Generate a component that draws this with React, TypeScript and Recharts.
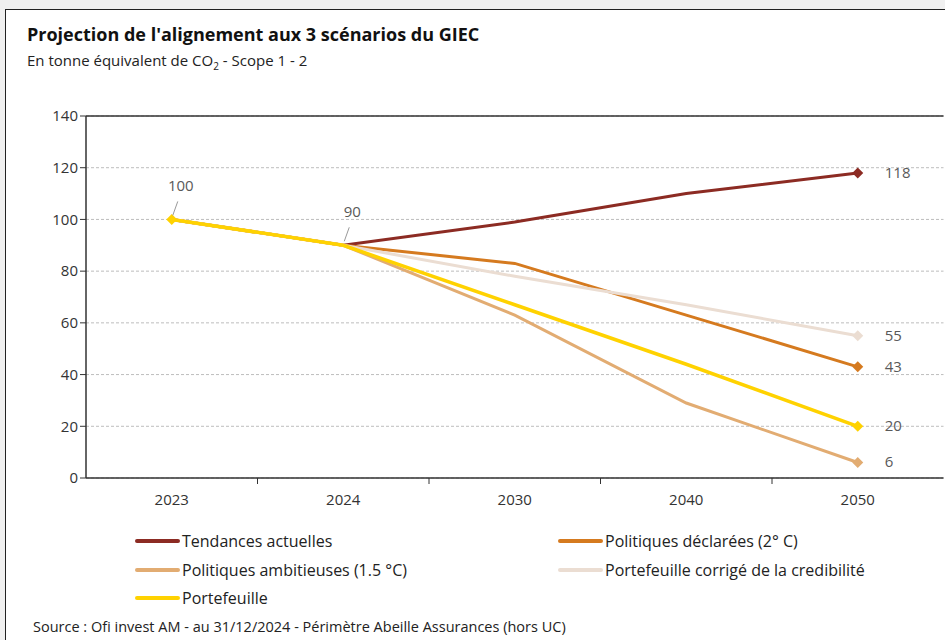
import React from "react";
import { LineChart, Line, XAxis, YAxis, CartesianGrid, ReferenceLine, LabelList } from "recharts";

const years = ["2023", "2024", "2030", "2040", "2050"];
const tendances = [100, 90, 99, 110, 118];
const declarees = [100, 90, 83, 63, 43];
const ambitieuses = [100, 90, 63, 29, 6];
const corrige = [100, 90, 78, 67, 55];
const portefeuille = [100, 90, 67, 44, 20];
const yTicks = [0, 20, 40, 60, 80, 100, 120, 140];

const series = [
  { key: "tendances", name: "Tendances actuelles", color: "#8C2B23", values: tendances },
  { key: "declarees", name: "Politiques déclarées (2° C)", color: "#D57A1F", values: declarees },
  { key: "ambitieuses", name: "Politiques ambitieuses (1.5 °C)", color: "#E2AC72", values: ambitieuses },
  { key: "corrige", name: "Portefeuille corrigé de la credibilité", color: "#EBDDD2", values: corrige },
  { key: "portefeuille", name: "Portefeuille", color: "#FFD200", values: portefeuille },
];

const data = years.map((y, i) => {
  const row: any = { year: y };
  series.forEach((s) => (row[s.key] = s.values[i]));
  return row;
});

const FONT = "'Open Sans', sans-serif";
const labelColor = "#595959";

const makeDot = (color: string, showFirst: boolean) => (props: any) => {
  const { cx, cy, index } = props;
  if (!(index === years.length - 1 || (showFirst && index === 0))) return <g key={index} />;
  const r = 5.5;
  return (
    <path
      key={index}
      d={`M${cx},${cy - r} L${cx + r},${cy} L${cx},${cy + r} L${cx - r},${cy} Z`}
      fill={color}
    />
  );
};

const endLabel = (withLeaders: boolean) => (props: any) => {
  const { x, y, value, index } = props;
  if (index === years.length - 1) {
    return (
      <text x={x + 27} y={y + 5} fill={labelColor} fontSize={15} fontFamily={FONT}>
        {value}
      </text>
    );
  }
  if (withLeaders && index <= 1) {
    return (
      <g>
        <line x1={x + 1} y1={y - 4} x2={x + 6} y2={y - 18} stroke="#999" strokeWidth={1} />
        <text x={x + 9} y={y - 28} fill={labelColor} fontSize={15} fontFamily={FONT} textAnchor="middle">
          {value}
        </text>
      </g>
    );
  }
  return null;
};

const XTick = (props: any) => {
  const { x, y, payload, index } = props;
  const band = 171.5;
  return (
    <g>
      {index < years.length - 1 && (
        <line x1={x + band / 2} y1={y - 8} x2={x + band / 2} y2={y - 2} stroke="#333" strokeWidth={1} />
      )}
      <text x={x} y={y + 19} textAnchor="middle" fill="#333" fontSize={15} fontFamily={FONT}>
        {payload.value}
      </text>
    </g>
  );
};

export default function App() {
  return (
    <div style={{ position: "absolute", left: 0, top: 0, width: 945, height: 640, background: "#f0f0f0", overflow: "hidden" }}>
      <div
        style={{
          position: "absolute",
          left: 5,
          top: 9,
          width: 960,
          height: 660,
          background: "#fff",
          border: "1.5px solid #222",
        }}
      />
      <div style={{ position: "absolute", left: 27, top: 22, fontFamily: FONT, fontWeight: 700, fontSize: 18, color: "#111" }}>
        Projection de l'alignement aux 3 scénarios du GIEC
      </div>
      <div style={{ position: "absolute", left: 27, top: 50, fontFamily: FONT, fontSize: 15, color: "#222" }}>
        En tonne équivalent de CO<sub style={{ fontSize: 10 }}>2</sub> - Scope 1 - 2
      </div>
      <div style={{ position: "absolute", left: 0, top: 0 }}>
        <LineChart width={945} height={510} data={data} margin={{ top: 116, right: 1.5, bottom: 2, left: 0 }}>
          <CartesianGrid vertical={false} stroke="#bdbdbd" strokeDasharray="3 2" />
          <ReferenceLine y={140} stroke="#333" strokeWidth={1.5} />
          <XAxis
            dataKey="year"
            height={30}
            padding={{ left: 85.75, right: 85.75 }}
            axisLine={{ stroke: "#333", strokeWidth: 1.5 }}
            tickLine={false}
            tick={<XTick />}
            interval={0}
          />
          <YAxis
            width={86}
            domain={[0, 140]}
            ticks={yTicks}
            axisLine={{ stroke: "#333", strokeWidth: 1.5 }}
            tickLine={{ stroke: "#333" }}
            tickSize={6}
            tick={{ fill: "#333", fontSize: 15, fontFamily: FONT }}
            interval={0}
          />
          {series.map((s) => (
            <Line
              key={s.key}
              dataKey={s.key}
              name={s.name}
              stroke={s.color}
              strokeWidth={s.key === "portefeuille" ? 3.5 : 3}
              dot={makeDot(s.color, s.key === "portefeuille")}
              activeDot={false}
              isAnimationActive={false}
            >
              <LabelList dataKey={s.key} content={endLabel(s.key === "portefeuille")} />
            </Line>
          ))}
        </LineChart>
      </div>
      {series.map((s, i) => {
        const col = i % 2;
        const row = Math.floor(i / 2);
        return (
          <div
            key={s.key}
            style={{
              position: "absolute",
              left: col === 0 ? 135 : 558,
              top: 530 + row * 28.5,
              display: "flex",
              alignItems: "center",
              fontFamily: FONT,
              fontSize: 16,
              color: "#222",
              whiteSpace: "nowrap",
            }}
          >
            <span style={{ display: "inline-block", width: 45, height: 4, background: s.color, borderRadius: 2, marginRight: 2 }} />
            {s.name}
          </div>
        );
      })}
      <div style={{ position: "absolute", left: 33, top: 617, fontFamily: FONT, fontSize: 14.5, color: "#222", whiteSpace: "nowrap" }}>
        Source : Ofi invest AM - au 31/12/2024 - Périmètre Abeille Assurances (hors UC)
      </div>
    </div>
  );
}
